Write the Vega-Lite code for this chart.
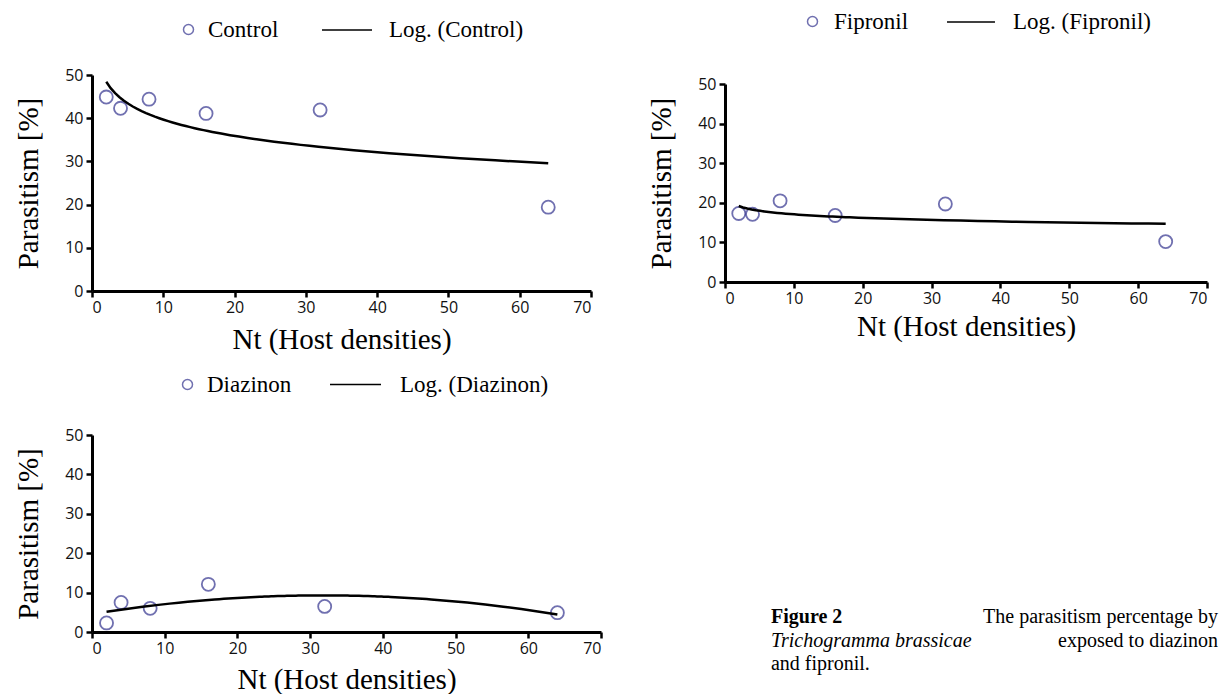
{
  "$schema": "https://vega.github.io/schema/vega-lite/v6.json",
  "background": "white",
  "padding": {"left": 14, "top": -3, "right": 5, "bottom": 0},
  "config": {
    "view": {"stroke": null},
    "axis": {"grid": false, "domainColor": "black", "domainWidth": 3, "tickColor": "black", "tickWidth": 2.5, "tickSize": 6, "labelFont": "Open Sans", "labelFontSize": 16, "labelColor": "#111", "labelPadding": 2, "titleFont": "Liberation Serif", "titleFontSize": 29, "titleFontWeight": "normal", "titleColor": "black"},
    "axisY": {"labelPadding": 3},
    "legend": {"labelFont": "Liberation Serif", "labelFontSize": 23, "labelColor": "black", "padding": 0, "orient": "none"}
  },
  "columns": 2,
  "align": "each",
  "bounds": "flush",
  "center": {"row": true, "column": false},
  "spacing": {"row": 144, "column": 124},
  "resolve": {"scale": {"x": "independent", "y": "independent", "shape": "independent", "color": "independent"}, "axis": {"x": "independent", "y": "independent"}, "legend": {"shape": "independent", "color": "independent"}},
  "concat": [
    {
      "width": 499, "height": 216,
      "data": {"values": [{"n": 2, "p": 44.9}, {"n": 4, "p": 42.3}, {"n": 8, "p": 44.4}, {"n": 16, "p": 41.1}, {"n": 32, "p": 41.9}, {"n": 64, "p": 19.4}]},
      "encoding": {
        "x": {"field": "n", "type": "quantitative", "scale": {"domain": [0, 70], "nice": false}, "axis": {"values": [0, 10, 20, 30, 40, 50, 60, 70], "title": "Nt (Host densities)", "titlePadding": 10}},
        "y": {"field": "p", "type": "quantitative", "scale": {"domain": [0, 50], "nice": false}, "axis": {"values": [0, 10, 20, 30, 40, 50], "title": "Parasitism [%]", "titlePadding": 21}}
      },
      "layer": [
        {
          "mark": {"type": "point", "filled": false, "stroke": "#34348f", "strokeWidth": 1.8, "size": 170},
          "encoding": {
            "shape": {"datum": "Control", "type": "nominal", "scale": {"range": ["circle"]}, "legend": {"title": null, "legendX": 85, "legendY": -57, "symbolSize": 100, "labelOffset": 8, "encode": {"symbols": {"update": {"stroke": {"value": "#666666"}, "strokeWidth": {"value": 2.6}, "fill": {"value": "transparent"}}}}}}
          }
        },
        {
          "transform": [{"regression": "p", "on": "n", "method": "log"}],
          "mark": {"type": "line", "strokeWidth": 2.5, "color": "black"},
          "encoding": {
            "color": {"datum": "Log. (Control)", "type": "nominal", "scale": {"range": ["black"]}, "legend": {"title": null, "symbolType": "stroke", "symbolSize": 2500, "symbolStrokeWidth": 1.5, "labelOffset": 16, "legendX": 229, "legendY": -71}}
          }
        }
      ]
    },
    {
      "width": 482, "height": 198,
      "data": {"values": [{"n": 2, "p": 17.3}, {"n": 4, "p": 17.1}, {"n": 8, "p": 20.5}, {"n": 16, "p": 16.8}, {"n": 32, "p": 19.7}, {"n": 64, "p": 10.2}]},
      "encoding": {
        "x": {"field": "n", "type": "quantitative", "scale": {"domain": [0, 70], "nice": false}, "axis": {"values": [0, 10, 20, 30, 40, 50, 60, 70], "title": "Nt (Host densities)", "titlePadding": 6}},
        "y": {"field": "p", "type": "quantitative", "scale": {"domain": [0, 50], "nice": false}, "axis": {"values": [0, 10, 20, 30, 40, 50], "title": "Parasitism [%]", "titlePadding": 21}}
      },
      "layer": [
        {
          "mark": {"type": "point", "filled": false, "stroke": "#34348f", "strokeWidth": 1.8, "size": 170},
          "encoding": {
            "shape": {"datum": "Fipronil", "type": "nominal", "scale": {"range": ["circle"]}, "legend": {"title": null, "legendX": 76, "legendY": -74, "symbolSize": 100, "labelOffset": 10, "encode": {"symbols": {"update": {"stroke": {"value": "#34348f"}, "strokeWidth": {"value": 2}, "fill": {"value": "transparent"}}}}}}
          }
        },
        {
          "transform": [{"regression": "p", "on": "n", "method": "log"}],
          "mark": {"type": "line", "strokeWidth": 2.5, "color": "black"},
          "encoding": {
            "color": {"datum": "Log. (Fipronil)", "type": "nominal", "scale": {"range": ["black"]}, "legend": {"title": null, "symbolType": "stroke", "symbolSize": 2300, "symbolStrokeWidth": 1.5, "labelOffset": 17, "legendX": 221, "legendY": -87}}
          }
        }
      ]
    },
    {
      "width": 509, "height": 197,
      "data": {"values": [{"n": 2, "p": 2.3}, {"n": 4, "p": 7.5}, {"n": 8, "p": 6.0}, {"n": 16, "p": 12.1}, {"n": 32, "p": 6.5}, {"n": 64, "p": 4.9}]},
      "encoding": {
        "x": {"field": "n", "type": "quantitative", "scale": {"domain": [0, 70], "nice": false}, "axis": {"values": [0, 10, 20, 30, 40, 50, 60, 70], "title": "Nt (Host densities)", "titlePadding": 9}},
        "y": {"field": "p", "type": "quantitative", "scale": {"domain": [0, 50], "nice": false}, "axis": {"values": [0, 10, 20, 30, 40, 50], "title": "Parasitism [%]", "titlePadding": 21}}
      },
      "layer": [
        {
          "mark": {"type": "point", "filled": false, "stroke": "#34348f", "strokeWidth": 1.8, "size": 170},
          "encoding": {
            "shape": {"datum": "Diazinon", "type": "nominal", "scale": {"range": ["circle"]}, "legend": {"title": null, "legendX": 84, "legendY": -62, "symbolSize": 100, "labelOffset": 8, "encode": {"symbols": {"update": {"stroke": {"value": "#34348f"}, "strokeWidth": {"value": 2}, "fill": {"value": "transparent"}}}}}}
          }
        },
        {
          "transform": [{"regression": "p", "on": "n", "method": "poly", "order": 2}],
          "mark": {"type": "line", "strokeWidth": 2.5, "color": "black"},
          "encoding": {
            "color": {"datum": "Log. (Diazinon)", "type": "nominal", "scale": {"range": ["black"]}, "legend": {"title": null, "symbolType": "stroke", "symbolSize": 2600, "symbolStrokeWidth": 1.5, "labelOffset": 18, "legendX": 237, "legendY": -77}}
          }
        }
      ]
    },
    {
      "width": 493, "height": 197,
      "encoding": {
        "x": {"field": "col", "type": "quantitative", "scale": {"domain": [-0.1029, 1], "nice": false, "zero": false}, "axis": null},
        "y": {"field": "line", "type": "quantitative", "scale": {"domain": [-6.745, 1.638], "reverse": true, "nice": false, "zero": false}, "axis": null},
        "text": {"field": "t", "type": "nominal"}
      },
      "layer": [
        {
          "data": {"values": [{"line": 1, "col": 0, "t": "Figure 2"}]},
          "mark": {"type": "text", "font": "Liberation Serif", "fontSize": 20, "fontWeight": "bold", "align": "left", "baseline": "middle", "color": "black"}
        },
        {
          "data": {"values": [{"line": 2, "col": 0, "t": "Trichogramma brassicae"}]},
          "mark": {"type": "text", "font": "Liberation Serif", "fontSize": 20, "fontStyle": "italic", "align": "left", "baseline": "middle", "color": "black"}
        },
        {
          "data": {"values": [{"line": 3, "col": 0, "t": "and fipronil."}]},
          "mark": {"type": "text", "font": "Liberation Serif", "fontSize": 20, "align": "left", "baseline": "middle", "color": "black"}
        },
        {
          "data": {"values": [{"line": 1, "col": 1, "t": "The parasitism percentage by"}, {"line": 2, "col": 1, "t": "exposed to diazinon"}]},
          "mark": {"type": "text", "font": "Liberation Serif", "fontSize": 20, "align": "right", "baseline": "middle", "color": "black"}
        }
      ]
    }
  ]
}
